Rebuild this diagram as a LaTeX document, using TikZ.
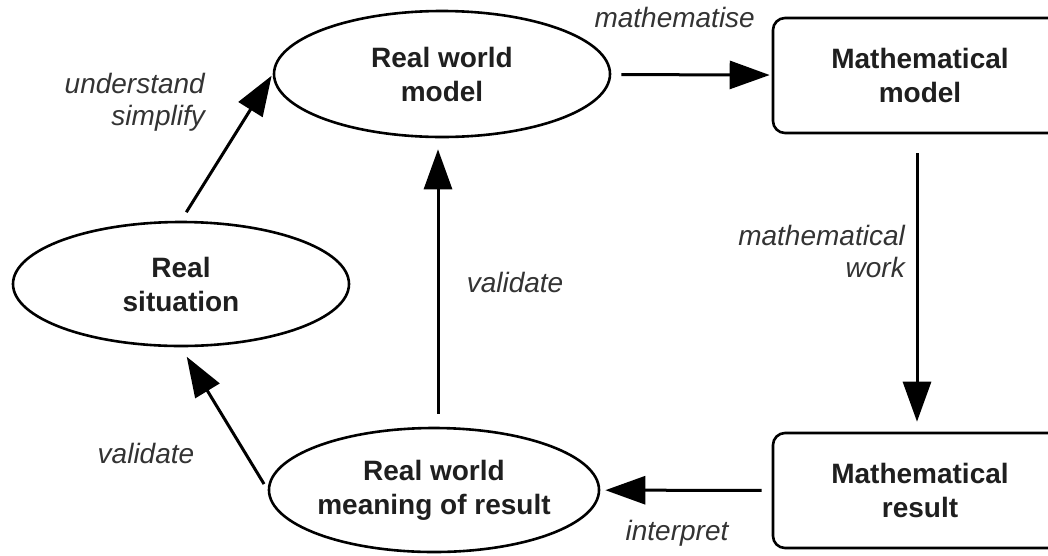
\documentclass[tikz,border=0pt]{standalone}
\usepackage{fontspec}
\setmainfont{Liberation Sans}
\usetikzlibrary{shapes.geometric,arrows.meta}
\tikzset{
  oval/.style={ellipse, draw, line width=2.6pt, inner sep=0pt, align=center,
    font=\fontsize{28}{34}\selectfont\bfseries, text=black!88},
  rbox/.style={rectangle, rounded corners=12pt, draw, line width=2.6pt, inner sep=0pt,
    align=center, minimum width=294pt, minimum height=115pt,
    font=\fontsize{28}{34}\selectfont\bfseries, text=black!88},
  arr/.style={line width=3pt, -{Triangle[length=40pt,width=28pt]}},
  lbl/.style={font=\fontsize{28}{32}\selectfont\itshape, text=black!80, inner sep=0pt}
}
\begin{document}
\begin{tikzpicture}[x=1pt,y=-1pt]
\useasboundingbox (0,0) rectangle (1048,555);
\node[oval, minimum width=336pt, minimum height=126pt] (rwm) at (442,74) {Real world\\model};
\node[oval, minimum width=336pt, minimum height=124pt] (rs) at (181,284) {Real\\situation};
\node[oval, minimum width=318pt, minimum height=124pt] (mean) at (434,490) {Real world\\meaning of result};
\node[rbox] (mm) at (920,75.5) {Mathematical\\model};
\node[rbox] (mr) at (920,490.5) {Mathematical\\result};

\draw[arr, shorten <=10pt, shorten >=2pt] (rwm) -- (mm);
\draw[arr, shorten <=19pt, shorten >=10pt] ([xshift=-3pt]mm.south) -- ([xshift=-3pt]mr.north);
\draw[arr, shorten <=10pt, shorten >=5pt] (mr) -- (mean);
\draw[arr, shorten <=13pt, shorten >=11pt] ([xshift=4pt]mean.north) -- ([xshift=-4pt]rwm.south);
\draw[arr, shorten <=10pt, shorten >=2pt] (rs.north) -- (rwm.west);
\draw[arr, shorten <=7pt, shorten >=11pt] (mean.west) -- (rs.south);

\node[lbl, anchor=base east] (l1) at (755,27) {mathematise};
\node[lbl, anchor=base east, align=right] (l2) at (205,125) {understand\\simplify};
\node[lbl, anchor=base east, align=right] (l3) at (905,277) {mathematical\\work};
\node[lbl, anchor=base] (l4) at (515,292) {validate};
\node[lbl, anchor=base] (l5) at (146,463) {validate};
\node[lbl, anchor=base] (l6) at (677,540) {interpret};
\end{tikzpicture}
\end{document}
